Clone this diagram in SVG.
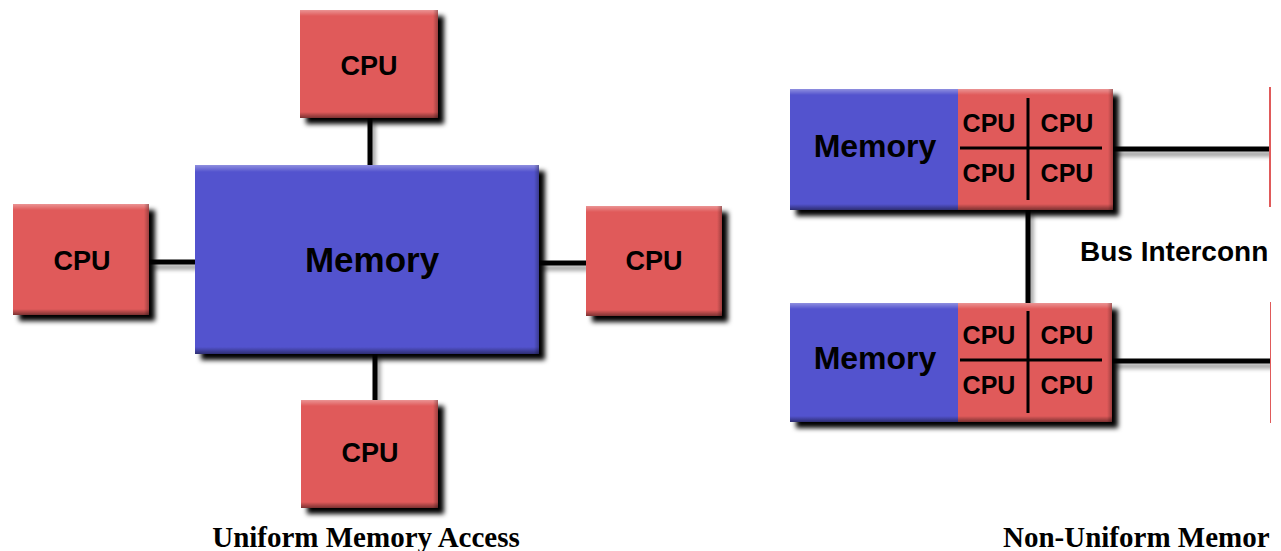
<svg xmlns="http://www.w3.org/2000/svg" width="1281" height="551" viewBox="0 0 1281 551">
<defs>
<filter id="sh" x="-10%" y="-10%" width="130%" height="130%">
<feGaussianBlur in="SourceAlpha" stdDeviation="2.5"/>
<feOffset dx="6" dy="6" result="b"/>
<feComponentTransfer><feFuncA type="linear" slope="1"/></feComponentTransfer>
<feMerge><feMergeNode/><feMergeNode in="SourceGraphic"/></feMerge>
</filter>
<filter id="lsh" x="-10%" y="-50%" width="120%" height="300%">
<feGaussianBlur in="SourceAlpha" stdDeviation="2"/>
<feOffset dx="3" dy="5" result="b"/>
<feComponentTransfer><feFuncA type="linear" slope="0.4"/></feComponentTransfer>
<feMerge><feMergeNode/><feMergeNode in="SourceGraphic"/></feMerge>
</filter>
<linearGradient id="topHi" x1="0" y1="0" x2="0" y2="1">
<stop offset="0" stop-color="#fff" stop-opacity="0.35"/>
<stop offset="1" stop-color="#fff" stop-opacity="0"/>
</linearGradient>
<linearGradient id="botDk" x1="0" y1="0" x2="0" y2="1">
<stop offset="0" stop-color="#000" stop-opacity="0"/>
<stop offset="1" stop-color="#000" stop-opacity="0.45"/>
</linearGradient>
<linearGradient id="rtDk" x1="0" y1="0" x2="1" y2="0">
<stop offset="0" stop-color="#000" stop-opacity="0"/>
<stop offset="1" stop-color="#000" stop-opacity="0.3"/>
</linearGradient>
<clipPath id="frame"><rect x="0" y="0" width="1271" height="551"/></clipPath>
</defs>
<style>
.cpu{fill:#E05A5A}
.mem{fill:#5353CE}
.hi{fill:url(#topHi)}
.dk{fill:url(#botDk)}
.rd{fill:url(#rtDk)}
.lbl{font-family:"Liberation Sans",Arial,sans-serif;font-weight:bold;fill:#000;text-anchor:middle;dominant-baseline:central}
.cap{font-family:"Liberation Serif","Times New Roman",serif;font-weight:bold;font-size:29px;fill:#000}
.ln{stroke:#000;stroke-width:5;fill:none}
.grid{stroke:#000;stroke-width:3;fill:none}
</style>
<rect width="1281" height="551" fill="#fff"/>
<g clip-path="url(#frame)">
<g id="connectors" filter="url(#lsh)">
<line class="ln" x1="370" y1="118" x2="370" y2="166"/>
<line class="ln" x1="149" y1="262" x2="196" y2="262"/>
<line class="ln" x1="538" y1="263" x2="586" y2="263"/>
<line class="ln" x1="375" y1="353" x2="375" y2="401"/>
<line class="ln" x1="1112" y1="149" x2="1272" y2="149"/>
<line class="ln" x1="1028" y1="209" x2="1028" y2="304"/>
<line class="ln" x1="1111" y1="361" x2="1272" y2="361"/>
</g>
<g id="uma-cpu-top">
<rect class="cpu" x="300" y="10" width="138" height="108" filter="url(#sh)"/>
<rect class="hi" x="300" y="10" width="138" height="6"/>
<rect class="dk" x="300" y="112" width="138" height="6"/>
<rect class="rd" x="433" y="10" width="5" height="108"/>
<text class="lbl" x="369" y="66" font-size="27">CPU</text>
</g>
<g id="uma-cpu-left">
<rect class="cpu" x="13" y="204" width="136" height="111" filter="url(#sh)"/>
<rect class="hi" x="13" y="204" width="136" height="6"/>
<rect class="dk" x="13" y="309" width="136" height="6"/>
<rect class="rd" x="144" y="204" width="5" height="111"/>
<text class="lbl" x="82" y="261" font-size="27">CPU</text>
</g>
<g id="uma-cpu-right">
<rect class="cpu" x="586" y="206" width="136" height="110" filter="url(#sh)"/>
<rect class="hi" x="586" y="206" width="136" height="6"/>
<rect class="dk" x="586" y="310" width="136" height="6"/>
<rect class="rd" x="717" y="206" width="5" height="110"/>
<text class="lbl" x="654" y="261" font-size="27">CPU</text>
</g>
<g id="uma-cpu-bottom">
<rect class="cpu" x="301" y="400" width="137" height="108" filter="url(#sh)"/>
<rect class="hi" x="301" y="400" width="137" height="6"/>
<rect class="dk" x="301" y="502" width="137" height="6"/>
<rect class="rd" x="433" y="400" width="5" height="108"/>
<text class="lbl" x="370" y="453" font-size="27">CPU</text>
</g>
<g id="uma-memory">
<rect class="mem" x="195" y="165" width="344" height="189" filter="url(#sh)"/>
<rect class="hi" x="195" y="165" width="344" height="7"/>
<rect class="dk" x="195" y="347" width="344" height="7"/>
<rect class="rd" x="534" y="165" width="5" height="189"/>
<text class="lbl" x="372" y="259" font-size="35">Memory</text>
</g>
<g id="numa-node-top">
<g filter="url(#sh)">
<rect class="mem" x="790" y="89" width="168" height="121"/>
<rect class="cpu" x="958" y="89" width="155" height="121"/>
</g>
<rect class="hi" x="790" y="89" width="323" height="6"/>
<rect class="dk" x="790" y="204" width="323" height="6"/>
<rect class="rd" x="1108" y="89" width="5" height="121"/>
<line class="grid" x1="1028" y1="98" x2="1028" y2="200"/>
<line class="grid" x1="960" y1="148" x2="1102" y2="148"/>
<text class="lbl" x="875" y="146" font-size="32">Memory</text>
<text class="lbl" x="989" y="123" font-size="25">CPU</text>
<text class="lbl" x="1067" y="123" font-size="25">CPU</text>
<text class="lbl" x="989" y="173" font-size="25">CPU</text>
<text class="lbl" x="1067" y="173" font-size="25">CPU</text>
</g>
<g id="numa-node-bottom">
<g filter="url(#sh)">
<rect class="mem" x="790" y="303" width="168" height="119"/>
<rect class="cpu" x="958" y="303" width="154" height="119"/>
</g>
<rect class="hi" x="790" y="303" width="322" height="6"/>
<rect class="dk" x="790" y="416" width="322" height="6"/>
<rect class="rd" x="1107" y="303" width="5" height="119"/>
<line class="grid" x1="1028" y1="311" x2="1028" y2="413"/>
<line class="grid" x1="960" y1="360" x2="1102" y2="360"/>
<text class="lbl" x="875" y="358" font-size="32">Memory</text>
<text class="lbl" x="989" y="335" font-size="25">CPU</text>
<text class="lbl" x="1067" y="335" font-size="25">CPU</text>
<text class="lbl" x="989" y="385" font-size="25">CPU</text>
<text class="lbl" x="1067" y="385" font-size="25">CPU</text>
</g>
<g id="numa-node-right-top">
<rect class="cpu" x="1269" y="87" width="10" height="120" filter="url(#sh)"/>
</g>
<g id="numa-node-right-bottom">
<rect class="cpu" x="1270" y="302" width="10" height="121" filter="url(#sh)"/>
</g>
<text id="bus-label" x="1080" y="261" font-family="Liberation Sans, Arial, sans-serif" font-weight="bold" font-size="28" fill="#000">Bus Interconn</text>
<text class="cap" x="366" y="547" text-anchor="middle">Uniform Memory Access</text>
<text class="cap" x="1003" y="547">Non-Uniform Memor</text>
</g>
</svg>
